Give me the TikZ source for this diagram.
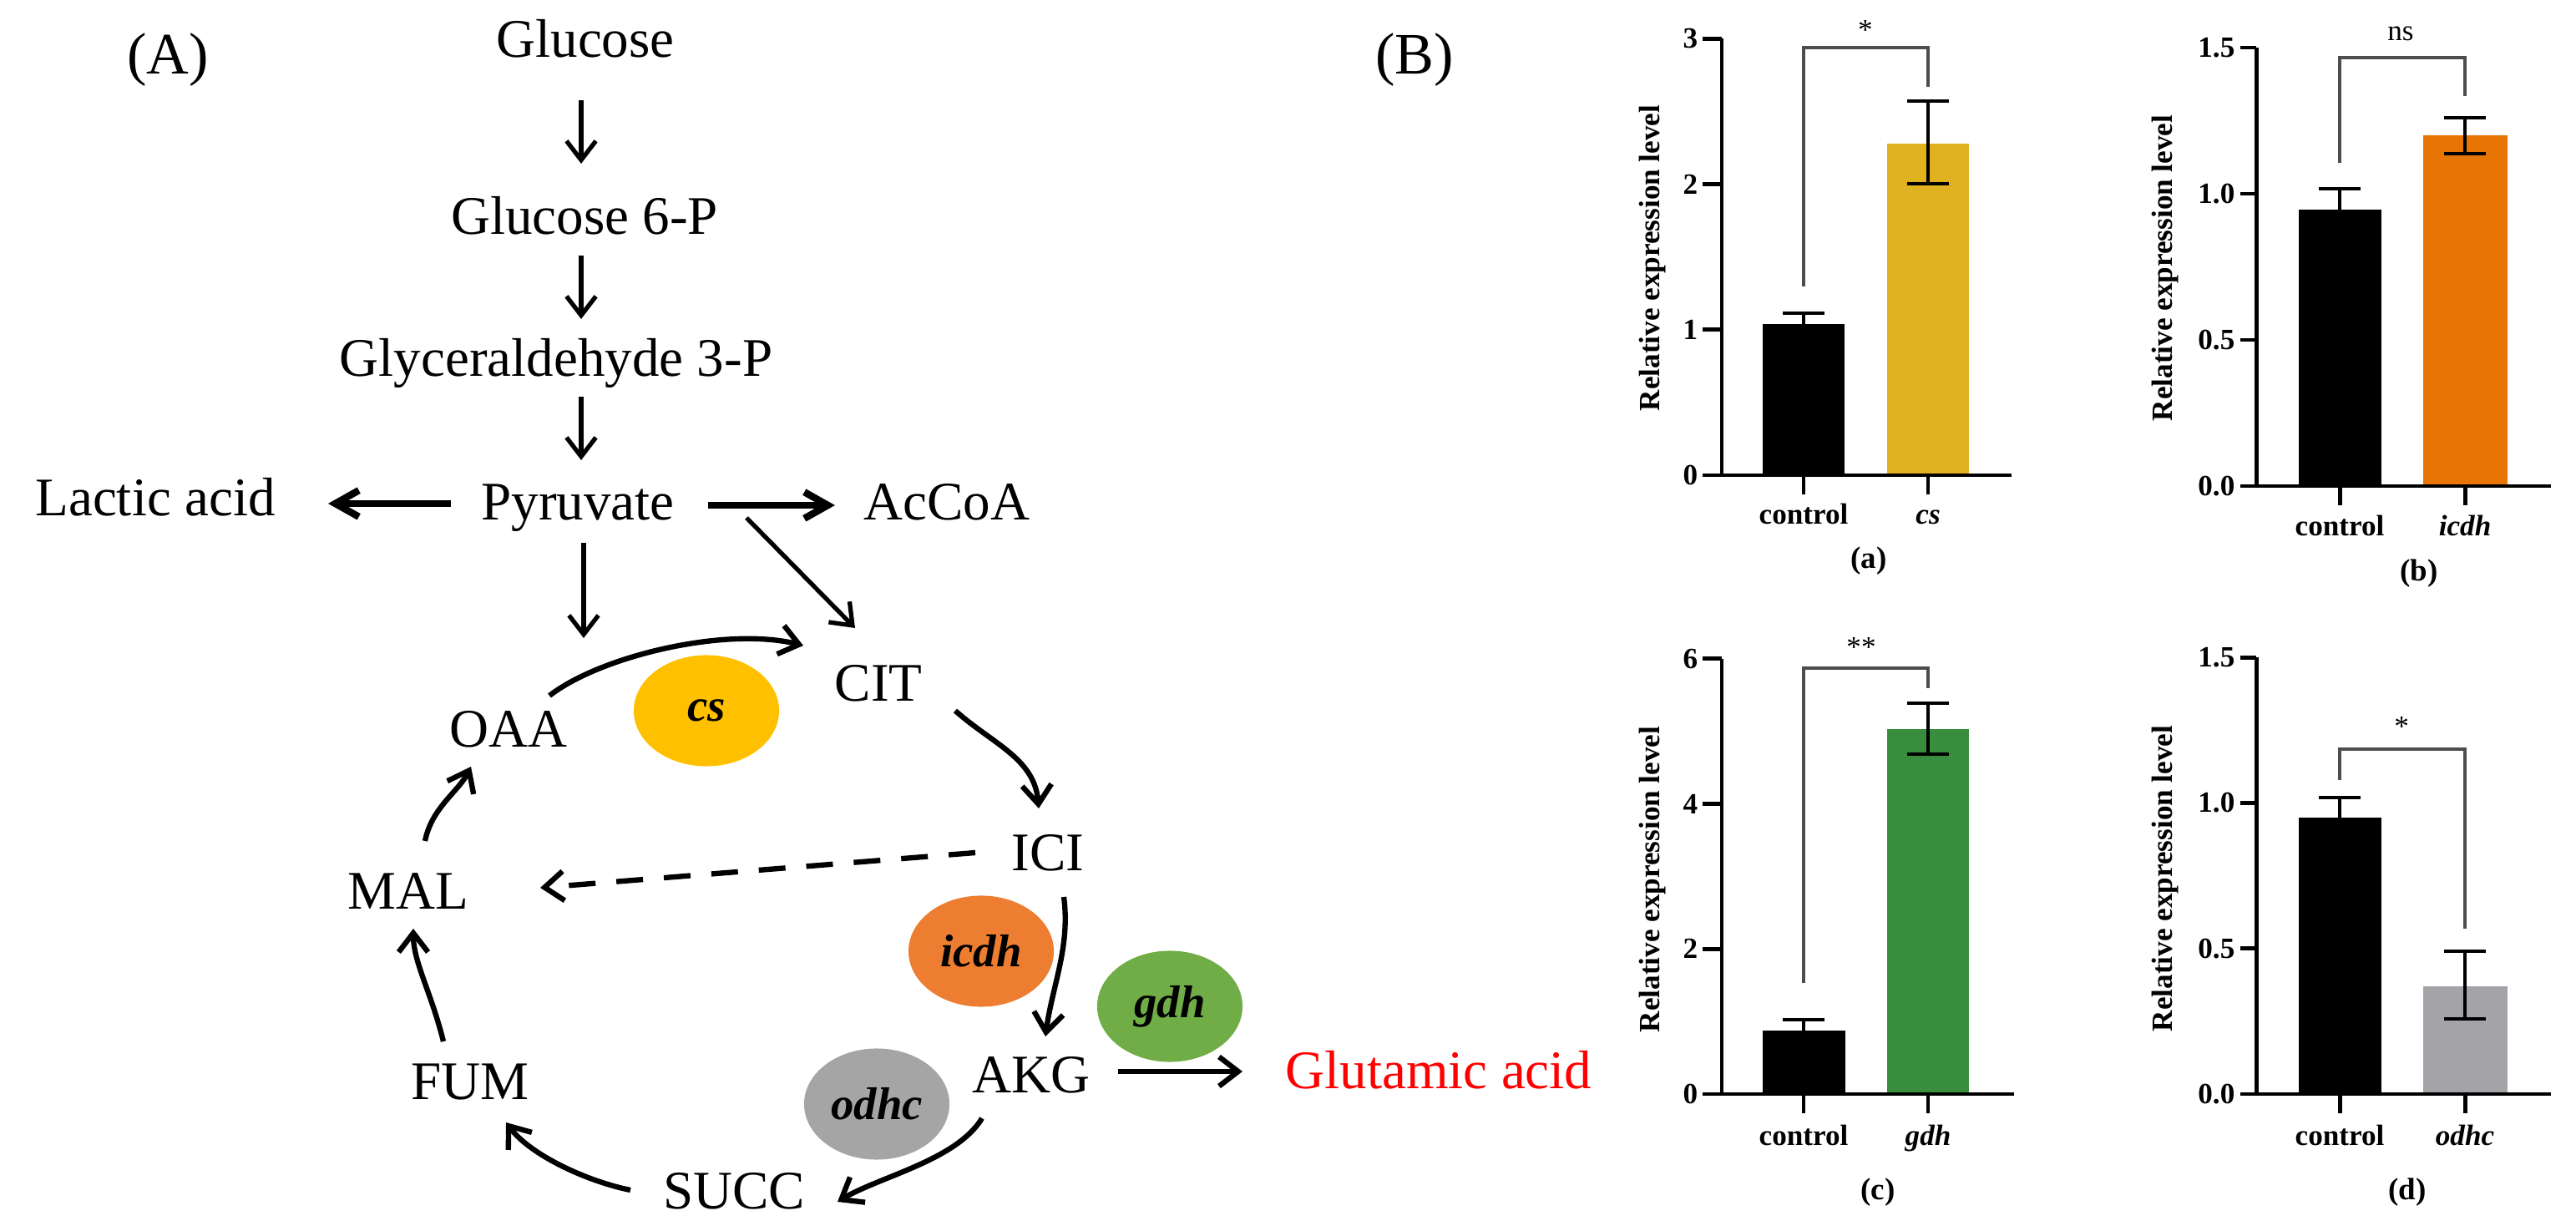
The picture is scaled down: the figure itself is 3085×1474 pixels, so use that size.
\documentclass[tikz,border=0pt]{standalone}
\usepackage{fontspec}
\setmainfont{Liberation Serif}
\usetikzlibrary{arrows.meta}
\usetikzlibrary{calc}
\usetikzlibrary{shapes}

\definecolor{cscol}{HTML}{FFC000}
\definecolor{icdhcol}{HTML}{ED7D31}
\definecolor{gdhcol}{HTML}{70AD47}
\definecolor{odhccol}{HTML}{A5A5A5}
\definecolor{csbar}{HTML}{E1B21F}
\definecolor{icdhbar}{HTML}{E87404}
\definecolor{gdhbar}{HTML}{388E3C}
\definecolor{odhcbar}{HTML}{A3A3A8}
\definecolor{sigcol}{HTML}{4D4D4D}

\begin{document}
\begin{tikzpicture}[x=0.01cm, y=-0.01cm,
    met/.style={anchor=base, inner sep=0pt, font=\fontsize{18.5}{22}\selectfont},
    panel/.style={anchor=base, inner sep=0pt, font=\fontsize{20}{24}\selectfont},
    enz/.style={ellipse, minimum width=1.74cm, minimum height=1.33cm, inner sep=0pt,
                font=\fontsize{15.6}{18}\selectfont\bfseries\itshape},
    flow/.style={line width=1.8pt, -{Straight Barb[length=6.5pt, width=10pt]}},
    thinflow/.style={flow, line width=1.5pt},
    bigflow/.style={line width=2.4pt, -{Straight Barb[length=8pt, width=9pt]}},
    dflow/.style={flow, dash pattern=on 0.32cm off 0.25cm},
    axisline/.style={line width=1.4pt},
    errbar/.style={line width=1.1pt},
    sigline/.style={line width=1.1pt, draw=sigcol},
    ticklab/.style={anchor=east, inner sep=0pt, font=\fontsize{10}{12}\selectfont\bfseries},
    barlab/.style={anchor=base, inner sep=0pt, font=\fontsize{10}{12}\selectfont\bfseries},
    genelab/.style={barlab, font=\fontsize{10}{12}\selectfont\bfseries\itshape},
    sublab/.style={inner sep=0pt, font=\fontsize{10.5}{12}\selectfont\bfseries},
    sigtxt/.style={inner sep=0pt, font=\fontsize{10}{12}\selectfont},
    axlab/.style={rotate=90, inner sep=0pt, font=\fontsize{10}{12}\selectfont\bfseries}]
    \useasboundingbox (0,0) rectangle (3085,1474);

    \node[panel] (pA) at (201,89) {(A)};
    \node[panel] (pB) at (1694,89) {(B)};

    \node[met] (glc) at (701,69) {Glucose};
    \node[met] (g6p) at (700,281) {Glucose 6-P};
    \node[met] (g3p) at (666,451) {Glyceraldehyde 3-P};
    \node[met] (pyr) at (692,623) {Pyruvate};
    \node[met] (lac) at (186,618) {Lactic acid};
    \node[met] (acc) at (1134,623) {AcCoA};
    \node[met] (cit) at (1052,840) {CIT};
    \node[met] (oaa) at (609,895) {OAA};
    \node[met] (ici) at (1255,1043) {ICI};
    \node[met] (mal) at (489,1089) {MAL};
    \node[met] (fum) at (563,1316) {FUM};
    \node[met] (succ) at (879,1447) {SUCC};
    \node[met] (akg) at (1235,1308) {AKG};
    \node[met, text=red] (glu) at (1723,1303) {Glutamic acid};

    \node[enz, fill=cscol] (cs) at (846,851) {cs};
    \node[enz, fill=icdhcol] (icdh) at (1175,1139) {icdh};
    \node[enz, fill=gdhcol] (gdh) at (1401,1205) {gdh};
    \node[enz, fill=odhccol] (odhc) at (1050,1322) {odhc};

    \draw[thinflow] ($(glc.base)+(-5,51)$) -- ($(g6p.base)+(-4,-85)$);
    \draw[thinflow] ($(g6p.base)+(-4,25)$) -- ($(g3p.base)+(30,-69)$);
    \draw[thinflow] ($(g3p.base)+(30,24)$) -- ($(pyr.base)+(4,-72)$);
    \draw[bigflow] ($(pyr.base)+(-152,-20)$) -- ($(lac.base)+(207,-15)$);
    \draw[bigflow] ($(pyr.base)+(156,-18)$) -- ($(acc.base)+(-134,-18)$);
    \draw[thinflow] ($(pyr.base)+(202,-3)$) -- ($(cit.base)+(-28,-88)$);
    \draw[thinflow] ($(pyr.base)+(7,27)$) -- ($(oaa.base)+(90,-131)$);
    \draw[flow] ($(oaa.base)+(49,-62)$) .. controls +(62,-48) and +(-92,-23) .. ($(cit.base)+(-90,-67)$);
    \draw[flow] ($(cit.base)+(92,11)$) .. controls +(45,40) and +(-5,-60) .. ($(ici.base)+(-11,-75)$);
    \draw[dflow] ($(ici.base)+(-87,-22)$) -- ($(mal.base)+(158,-26)$);
    \draw[flow] ($(ici.base)+(19,31)$) .. controls +(8,60) and +(8,-60) .. ($(akg.base)+(17,-67)$);
    \draw[flow] ($(akg.base)+(104,-25)$) -- ($(glu.base)+(-235,-20)$);
    \draw[flow] ($(akg.base)+(-59,31)$) .. controls +(-30,50) and +(50,-30) .. ($(succ.base)+(124,-8)$);
    \draw[flow] ($(succ.base)+(-124,-22)$) .. controls +(-50,-10) and +(30,40) .. ($(fum.base)+(43,28)$);
    \draw[flow] ($(fum.base)+(-32,-69)$) .. controls +(-15,-60) and +(0,40) .. ($(mal.base)+(6,23)$);
    \draw[flow] ($(mal.base)+(20,-82)$) .. controls +(8,-40) and +(-15,30) .. ($(oaa.base)+(-45,23)$);

    \fill (2111,569) rectangle (2209,388);
    \fill[csbar] (2260,569) rectangle (2358,172);
    \draw[errbar] (2160,388) -- (2160,375) (2135,375) -- (2185,375);
    \draw[errbar] (2309,220) -- (2309,121) (2284,220) -- (2334,220) (2284,121) -- (2334,121);
    \draw[axisline] (2062,46) -- (2062,569) (2039,569) -- (2409,569);
    \foreach \t [count=\k from 0] in {0,1,2,3} {
        \draw[axisline] (2039,{569-174.3*\k}) -- (2062,{569-174.3*\k});
        \node[ticklab] (ta\k) at (2034,{569-174.3*\k}) {\t};
    }
    \draw[axisline] (2160,569) -- (2160,592) (2309,569) -- (2309,592);
    \node[barlab] (ca) at (2160,628) {control};
    \node[genelab] (ga) at (2309,628) {cs};
    \node[sublab] (sa) at (2238,672) {(a)};
    \draw[sigline] (2160,343) -- (2160,57) -- (2309,57) -- (2309,104);
    \node[sigtxt] (stara) at (2234,36) {*};
    \node[axlab] (ya) at (1979,309) {Relative expression level};

    \fill (2753,582) rectangle (2852,251);
    \fill[icdhbar] (2902,582) rectangle (3003,162);
    \draw[errbar] (2802,251) -- (2802,226) (2777,226) -- (2827,226);
    \draw[errbar] (2952,184) -- (2952,141) (2927,184) -- (2977,184) (2927,141) -- (2977,141);
    \draw[axisline] (2702,57) -- (2702,582) (2683,582) -- (3055,582);
    \foreach \t [count=\k from 0] in {0.0,0.5,1.0,1.5} {
        \draw[axisline] (2683,{582-175*\k}) -- (2702,{582-175*\k});
        \node[ticklab] (tb\k) at (2677,{582-175*\k}) {\t};
    }
    \draw[axisline] (2802,582) -- (2802,605) (2952,582) -- (2952,605);
    \node[barlab] (cb) at (2802,642) {control};
    \node[genelab] (gb) at (2952,642) {icdh};
    \node[sublab] (sb) at (2897,687) {(b)};
    \draw[sigline] (2802,195) -- (2802,69) -- (2952,69) -- (2952,115);
    \node[sigtxt] (nsb) at (2875,40) {ns};
    \node[axlab] (yb) at (2593,321) {Relative expression level};

    \fill (2111,1310) rectangle (2210,1234);
    \fill[gdhbar] (2260,1310) rectangle (2358,873);
    \draw[errbar] (2160,1234) -- (2160,1221) (2135,1221) -- (2185,1221);
    \draw[errbar] (2309,903) -- (2309,842) (2284,903) -- (2334,903) (2284,842) -- (2334,842);
    \draw[axisline] (2062,789) -- (2062,1310) (2039,1310) -- (2412,1310);
    \foreach \t [count=\k from 0] in {0,2,4,6} {
        \draw[axisline] (2039,{1310-173.7*\k}) -- (2062,{1310-173.7*\k});
        \node[ticklab] (tc\k) at (2034,{1310-173.7*\k}) {\t};
    }
    \draw[axisline] (2160,1310) -- (2160,1333) (2309,1310) -- (2309,1333);
    \node[barlab] (cc) at (2160,1371) {control};
    \node[genelab] (gc) at (2309,1371) {gdh};
    \node[sublab] (sc) at (2249,1428) {(c)};
    \draw[sigline] (2160,1177) -- (2160,800) -- (2309,800) -- (2309,824);
    \node[sigtxt] (starc) at (2229,775) {**};
    \node[axlab] (yc) at (1979,1053) {Relative expression level};

    \fill (2753,1310) rectangle (2852,979);
    \fill[odhcbar] (2902,1310) rectangle (3003,1181);
    \draw[errbar] (2802,979) -- (2802,955) (2777,955) -- (2827,955);
    \draw[errbar] (2952,1220) -- (2952,1139) (2927,1220) -- (2977,1220) (2927,1139) -- (2977,1139);
    \draw[axisline] (2702,787) -- (2702,1310) (2683,1310) -- (3055,1310);
    \foreach \t [count=\k from 0] in {0.0,0.5,1.0,1.5} {
        \draw[axisline] (2683,{1310-174.3*\k}) -- (2702,{1310-174.3*\k});
        \node[ticklab] (td\k) at (2677,{1310-174.3*\k}) {\t};
    }
    \draw[axisline] (2802,1310) -- (2802,1333) (2952,1310) -- (2952,1333);
    \node[barlab] (cd) at (2802,1371) {control};
    \node[genelab] (gd) at (2952,1371) {odhc};
    \node[sublab] (sd) at (2883,1428) {(d)};
    \draw[sigline] (2802,934) -- (2802,897) -- (2952,897) -- (2952,1112);
    \node[sigtxt] (stard) at (2876,870) {*};
    \node[axlab] (yd) at (2593,1052) {Relative expression level};
\end{tikzpicture}
\end{document}
